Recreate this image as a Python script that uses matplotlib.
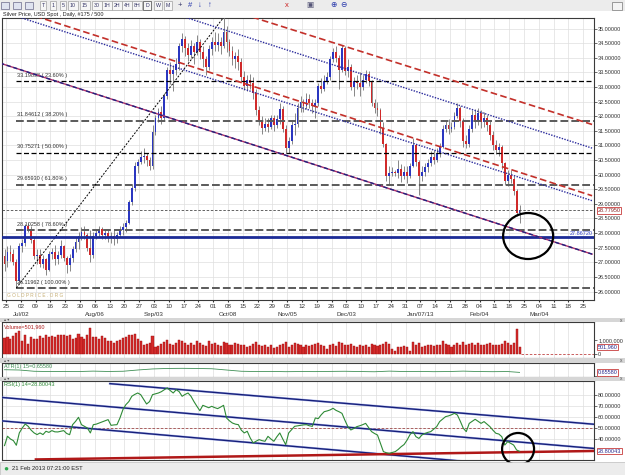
import numpy as np
import pandas as pd
import matplotlib
matplotlib.use("Agg")
import matplotlib.pyplot as plt
from matplotlib.patches import Ellipse, Rectangle
from matplotlib.transforms import blended_transform_factory

plt.rcParams["font.family"] = ["Liberation Sans", "DejaVu Sans"]

W, H = 625, 475

# === daily silver candles, 22 Jun 2012 .. 21 Feb 2013 (175 bars, one row per week) ===
opens = [27.20,
    27.05, 27.35, 27.30, 27.00, 26.35,   27.55, 27.65, 28.25, 28.15, 27.75,
    27.20, 27.25, 26.95, 27.10, 26.75,   27.30, 27.35, 27.10, 27.25, 27.55,
    27.15, 26.90, 27.15, 27.45, 27.70,   27.90, 28.05, 27.95, 27.50, 27.25,
    27.90, 28.00, 28.15, 27.95, 28.00,   27.85, 27.90, 27.80, 27.95, 28.10,
    28.20, 28.35, 29.05, 29.55, 30.30,   30.45, 30.60, 30.65, 30.50, 30.30,
    31.45, 31.95, 32.15, 31.95, 32.70,   33.60, 33.45, 33.60, 33.80, 34.40,
    34.65, 34.35, 34.10, 34.40, 34.20,   34.55, 34.20, 33.95, 33.70, 34.30,
    34.55, 34.45, 34.55, 34.40, 34.90,   34.55, 34.25, 33.95, 34.05, 33.85,
    33.35, 33.05, 33.25, 33.15, 32.80,   32.20, 31.85, 31.60, 31.75, 31.65,
    31.95, 31.70, 31.90, 32.25, 31.55,   30.90, 31.15, 31.70, 31.75, 32.30,
    32.50, 32.35, 32.60, 32.45, 32.35,   32.45, 33.05, 32.95, 33.20, 33.35,
    33.95, 34.20, 34.00, 33.60, 34.35,   33.55, 33.70, 33.00, 33.20, 33.15,
    33.00, 33.25, 33.45, 33.20, 32.45,   32.30, 32.20, 31.60, 31.05, 29.95,
    30.05, 30.10, 30.05, 30.20, 29.95,   30.10, 29.95, 30.30, 31.00, 30.45,
    29.95, 30.10, 30.25, 30.40, 30.60,   30.50, 30.75, 30.95, 31.55, 31.70,
    31.55, 31.65, 32.00, 32.30, 31.85,   31.15, 31.05, 31.55, 32.05, 31.85,
    32.10, 31.80, 31.95, 31.70, 31.35,   31.00, 30.85, 30.95, 30.40, 29.80,
    30.00, 29.85, 29.45, 28.70]
highs = [27.45,
    27.55, 27.60, 27.45, 27.10, 27.65,   27.80, 28.30, 28.35, 28.25, 27.85,
    27.45, 27.45, 27.25, 27.15, 27.40,   27.50, 27.60, 27.40, 27.75, 27.60,
    27.20, 27.30, 27.55, 27.85, 28.05,   28.20, 28.25, 28.00, 28.10, 28.05,
    28.15, 28.25, 28.20, 28.15, 28.10,   28.05, 28.10, 28.05, 28.25, 28.35,
    28.45, 29.15, 29.65, 30.45, 30.55,   30.80, 30.90, 30.75, 30.60, 31.70,
    32.05, 32.30, 32.35, 32.80, 33.70,   33.85, 33.75, 34.00, 34.50, 34.85,
    34.75, 34.50, 34.60, 34.50, 34.80,   34.65, 34.40, 34.05, 34.45, 34.70,
    34.90, 34.85, 34.70, 35.39, 35.10,   34.65, 34.40, 34.20, 34.30, 34.00,
    33.55, 33.40, 33.45, 33.35, 32.95,   32.35, 32.00, 31.95, 31.95, 32.05,
    32.05, 32.05, 32.45, 32.35, 31.70,   31.30, 31.85, 32.10, 32.45, 32.70,
    32.60, 32.80, 32.75, 32.60, 32.60,   33.15, 33.30, 33.40, 33.50, 34.05,
    34.35, 34.40, 34.10, 34.45, 34.40,   33.95, 33.80, 33.35, 33.40, 33.50,
    33.40, 33.60, 33.55, 33.25, 32.60,   32.50, 32.30, 31.80, 31.10, 30.30,
    30.25, 30.15, 30.50, 30.35, 30.30,   30.30, 30.40, 31.25, 31.05, 30.50,
    30.30, 30.40, 30.55, 30.80, 30.85,   30.90, 31.10, 31.70, 31.85, 31.90,
    31.80, 32.15, 32.45, 32.35, 31.95,   31.35, 31.70, 32.20, 32.25, 32.30,
    32.20, 32.15, 32.05, 31.85, 31.50,   31.20, 31.10, 31.00, 30.45, 30.15,
    30.15, 29.95, 29.50, 28.95]
lows = [26.70,
    26.85, 27.05, 26.90, 26.12, 26.30,   27.35, 27.55, 28.05, 27.65, 27.10,
    26.95, 26.85, 26.80, 26.55, 26.70,   27.10, 26.90, 26.95, 27.15, 27.05,
    26.65, 26.70, 27.00, 27.35, 27.45,   27.75, 27.80, 27.40, 27.00, 27.15,
    27.80, 27.85, 27.80, 27.80, 27.70,   27.65, 27.60, 27.65, 27.85, 27.95,
    28.05, 28.30, 28.95, 29.45, 30.05,   30.35, 30.40, 30.30, 30.15, 30.20,
    31.35, 31.80, 31.75, 31.85, 32.60,   33.10, 32.85, 33.40, 33.60, 34.20,
    34.05, 33.90, 34.00, 33.80, 34.10,   33.95, 33.70, 33.40, 33.60, 34.10,
    34.25, 34.25, 34.15, 34.35, 34.20,   34.05, 33.75, 33.65, 33.60, 33.20,
    32.90, 32.85, 32.95, 32.60, 32.05,   31.70, 31.40, 31.50, 31.45, 31.55,
    31.50, 31.60, 31.75, 31.45, 30.75,   30.75, 31.05, 31.35, 31.65, 32.15,
    32.15, 32.25, 32.30, 32.10, 31.95,   32.35, 32.80, 32.85, 33.10, 33.25,
    33.85, 33.85, 32.95, 33.50, 33.40,   33.35, 32.90, 32.70, 32.95, 32.70,
    32.90, 33.15, 33.05, 32.35, 32.10,   32.00, 31.40, 30.95, 29.80, 29.65,
    29.95, 29.95, 29.90, 29.75, 29.85,   29.70, 29.90, 30.25, 30.30, 29.30,
    29.80, 29.95, 30.10, 30.30, 30.35,   30.45, 30.60, 30.90, 31.45, 31.40,
    31.45, 31.55, 31.95, 31.65, 30.95,   30.90, 30.95, 31.45, 31.60, 31.70,
    31.60, 31.65, 31.50, 31.20, 30.85,   30.70, 30.65, 30.20, 29.65, 29.60,
    29.70, 29.30, 28.60, 28.35]
closes = [26.95,
    27.35, 27.30, 27.00, 26.35, 27.55,   27.65, 28.25, 28.15, 27.75, 27.20,
    27.25, 26.95, 27.10, 26.75, 27.30,   27.35, 27.10, 27.25, 27.55, 27.15,
    26.90, 27.15, 27.45, 27.70, 27.90,   28.05, 27.95, 27.50, 27.25, 27.90,
    28.00, 28.15, 27.95, 28.00, 27.85,   27.90, 27.80, 27.95, 28.10, 28.20,
    28.35, 29.05, 29.55, 30.30, 30.45,   30.60, 30.65, 30.50, 30.30, 31.45,
    31.95, 32.15, 31.95, 32.70, 33.60,   33.45, 33.60, 33.80, 34.40, 34.65,
    34.35, 34.10, 34.40, 34.20, 34.55,   34.20, 33.95, 33.70, 34.30, 34.55,
    34.45, 34.55, 34.40, 34.90, 34.55,   34.25, 33.95, 34.05, 33.85, 33.35,
    33.05, 33.25, 33.15, 32.80, 32.20,   31.85, 31.60, 31.75, 31.65, 31.95,
    31.70, 31.90, 32.25, 31.55, 30.90,   31.15, 31.70, 31.75, 32.30, 32.50,
    32.35, 32.60, 32.45, 32.35, 32.45,   33.05, 32.95, 33.20, 33.35, 33.95,
    34.20, 34.00, 33.60, 34.35, 33.55,   33.70, 33.00, 33.20, 33.15, 33.00,
    33.25, 33.45, 33.20, 32.45, 32.30,   32.20, 31.60, 31.05, 29.95, 30.05,
    30.10, 30.05, 30.20, 29.95, 30.10,   29.95, 30.30, 31.00, 30.45, 29.95,
    30.10, 30.25, 30.40, 30.60, 30.50,   30.75, 30.95, 31.55, 31.70, 31.55,
    31.65, 32.00, 32.30, 31.85, 31.15,   31.05, 31.55, 32.05, 31.85, 32.10,
    31.80, 31.95, 31.70, 31.35, 31.00,   30.85, 30.95, 30.40, 29.80, 30.00,
    29.85, 29.45, 28.70, 28.78]
volume_k = [1150,
    1200, 1050, 1300, 1550, 1700,   950, 1400, 700, 1250, 1100,
    1050, 1300, 1150, 1350, 1250,   1300, 1200, 1350, 1350, 1350,
    1300, 1400, 1050, 1150, 1450,   1250, 1100, 1400, 1900, 1250,
    1200, 1100, 1300, 1150, 950,    900, 800, 950, 1000, 1150,
    1250, 1400, 1350, 1450, 1100,   900, 650, 700, 750, 1300,
    450, 550, 700, 850, 1000,       700, 650, 750, 1000, 900,
    800, 650, 750, 600, 900,        800, 600, 550, 900, 700,
    750, 600, 550, 850, 750,        650, 600, 800, 700, 650,
    600, 500, 550, 700, 850,        600, 550, 650, 500, 600,
    400, 450, 600, 700, 850,        500, 650, 800, 700, 600,
    500, 600, 550, 650, 700,        750, 600, 550, 300, 650,
    700, 550, 850, 800, 650,        600, 700, 550, 500, 600,
    550, 600, 500, 700, 600,        550, 650, 700, 850, 700,
    300, 150, 450, 500, 550,        450, 200, 850, 650, 750,
    500, 550, 600, 650, 550,        600, 650, 950, 700, 600,
    450, 600, 750, 650, 850,        600, 700, 750, 650, 800,
    650, 600, 700, 750, 600,        650, 600, 700, 900, 750,
    650, 800, 1830, 502]
rsi = [34.0,
    42.5, 40.0, 38.5, 34.3, 45.5,   50.0, 53.6, 51.5, 48.0, 45.5,
    44.0, 45.5, 44.0, 47.0, 46.0,   47.6, 46.5, 46.4, 47.0, 47.6,
    45.0, 43.9, 53.0, 56.0, 59.7,   53.0, 51.5, 50.0, 45.5, 53.0,
    53.5, 54.5, 55.5, 56.5, 57.6,   52.4, 52.8, 53.0, 59.1, 66.7,
    71.2, 74.0, 78.8, 80.5, 81.8,   80.3, 76.0, 71.8, 74.0, 80.3,
    81.0, 81.8, 83.0, 84.8, 86.4,   84.0, 81.8, 84.8, 83.0, 78.8,
    80.5, 81.8, 78.8, 74.0, 69.7,   65.7, 70.6, 69.5, 68.4, 69.7,
    68.5, 67.6, 69.0, 70.6, 59.1,   56.5, 54.5, 53.5, 53.0, 48.0,
    45.5, 47.0, 41.0, 36.4, 38.0,   39.4, 38.5, 37.9, 42.4, 40.0,
    37.9, 42.0, 45.5, 40.0, 34.8,   45.5, 48.5, 51.5, 52.0, 52.4,
    52.8, 53.0, 52.0, 51.5, 59.1,   58.5, 62.0, 64.8, 65.5, 66.4,
    67.9, 66.0, 64.8, 63.3, 57.0,   51.2, 48.2, 49.5, 51.2, 52.0,
    53.0, 54.2, 50.5, 46.7, 45.0,   43.6, 36.0, 28.5, 27.5, 27.0,
    27.8, 28.5, 30.5, 33.0, 35.0,   39.0, 44.0, 46.7, 42.1, 40.5,
    43.6, 45.0, 46.0, 46.7, 49.0,   51.2, 55.8, 58.0, 60.3, 61.0,
    62.0, 63.3, 61.8, 56.0, 49.7,   46.7, 54.2, 56.0, 57.9, 56.0,
    54.2, 55.8, 53.5, 51.2, 48.0,   45.2, 44.5, 42.1, 34.5, 37.6,
    36.0, 34.5, 30.0, 28.80043]

# ATR(15), read once a week
atr_bar = [-1, 4, 9, 14, 19, 24, 29, 34, 39, 44, 49, 54, 59, 64, 69, 74, 79, 84,
           89, 94, 99, 104, 109, 114, 119, 124, 129, 134, 139, 144, 149, 154,
           159, 164, 169, 173]
atr_vals = [0.694, 0.690, 0.672, 0.668, 0.670, 0.668, 0.674, 0.669, 0.672, 0.690,
            0.705, 0.712, 0.714, 0.712, 0.708, 0.690, 0.672, 0.668, 0.670, 0.666,
            0.668, 0.667, 0.670, 0.672, 0.668, 0.665, 0.674, 0.668, 0.670, 0.666,
            0.668, 0.674, 0.668, 0.666, 0.668, 0.6558]

# fibonacci retracement (low 28 Jun -> high 4 Oct)
fib_levels = [33.19898, 31.84612, 30.75271, 29.65930, 28.10258, 26.11962]
fib_pcts = ["23.60", "38.20", "50.00", "61.80", "78.60", "100.00"]
fib_black = [True, False, True, False, False, False]
fib_swing_bar = [3, 73]
fib_swing_price = [26.11962, 35.38580]

last_price = 28.77950
support = 27.86720

# channel trend lines: (bar, price) anchors
upper_red = ([79.5, 197.5], [35.50, 31.72])
upper_blue = ([59.5, 197.5], [35.41, 30.91])
mid_red = ([9.5, 197.5], [35.43, 29.28])
mid_blue = ([-0.5, 197.5], [35.54, 29.11])
low_purple = ([-2.5, 197.5], [33.82, 27.28])

# RSI trend lines
rsi_top = ([34.6, 198.1], [90.3, 53.4])
rsi_mid = ([-2.5, 198.1], [77.9, 31.4])
rsi_low = ([-2.5, 198.1], [56.6, 9.4])
rsi_red = ([9.6, 198.1], [21.4, 29.1])

month_dates = ["2012-07-02", "2012-08-06", "2012-09-03", "2012-10-08", "2012-11-05",
               "2012-12-03", "2013-01-07", "2013-02-04", "2013-03-04"]
month_text = ["Jul/02", "Aug/06", "Sep/03", "Oct/08", "Nov/05", "Dec/03",
              "Jan/07/13", "Feb/04", "Mar/04"]

# --- calendar ---
days = pd.bdate_range("2012-06-22", "2013-02-21")
x = np.arange(len(days)) - 1
week0 = pd.Timestamp("2012-06-25")
tick_dates = pd.date_range(week0, periods=40, freq="7D")
tick_pos = np.arange(40) * 5 - 0.5
XLIM = (-1.85, 198.15)

fig = plt.figure(figsize=(W / 100, H / 100), dpi=100)
fig.patch.set_facecolor("white")


def px_axes(x0, y0, x1, y1):
    return fig.add_axes([x0 / W, 1 - y1 / H, (x1 - x0) / W, (y1 - y0) / H])


def fig_rect(x0, y0, x1, y1, fc, ec="none"):
    fig.patches.append(Rectangle((x0 / W, 1 - y1 / H), (x1 - x0) / W, (y1 - y0) / H,
                                 transform=fig.transFigure, fc=fc, ec=ec, lw=0.5, zorder=0))


def style_panel(ax):
    ax.set_xlim(*XLIM)
    ax.set_facecolor("white")
    for s in ax.spines.values():
        s.set_color("#3a3a3a")
        s.set_linewidth(0.8)
    ax.yaxis.tick_right()
    ax.tick_params(axis="y", labelsize=4, pad=1, length=2, width=0.5, colors="#333333")
    ax.set_xticks(tick_pos)
    ax.tick_params(axis="x", length=0, labelbottom=False)
    ax.grid(axis="x", color="#dedede", lw=0.5)
    ax.set_axisbelow(True)


def value_box(ax, y, text, tc="#2b2b8c"):
    tr = blended_transform_factory(ax.transAxes, ax.transData)
    ax.text(1.006, y, text, transform=tr, fontsize=4, color=tc, va="center", ha="left",
            bbox=dict(boxstyle="square,pad=0.12", fc="white", ec="#c83c3c", lw=0.6),
            clip_on=False, zorder=10)


# --- chrome: toolbar, separators, status bar ---
fig_rect(0, 0, W, 11, "#ececec")
for tx in (5, 17, 29):
    fig_rect(tx - 4, 2, tx + 4, 9, "#dfe3f0", "#6a6a8a")
tool_x = [43, 53, 63, 73, 85, 97, 107, 117, 127, 137, 147, 158, 168]
tool_t = ["T", "1", "5", "10", "15", "30", "1H", "2H", "4H", "8H", "D", "W", "M"]
for tx, tt in zip(tool_x, tool_t):
    fig.text(tx / W, 1 - 5.5 / H, tt, fontsize=3.8, ha="center", va="center", color="#333366",
             bbox=dict(boxstyle="square,pad=0.35", fc="#f6f6f6",
                       ec="#444444" if tt == "D" else "#a0a0a0", lw=0.5))
for tx, tt, tc in [(180, "+", "#333366"), (190, "#", "#2233aa"), (200, "\u2193", "#2233aa"),
                   (210, "\u2191", "#2233aa"), (287, "x", "#cc2222"), (310, "\u25a3", "#555577"),
                   (333, "\u2295", "#2233aa"), (343, "\u2296", "#2233aa")]:
    fig.text(tx / W, 1 - 5.5 / H, tt, fontsize=5.5, ha="center", va="center", color=tc)
fig_rect(612, 2, 622, 10, "#f4f4f4", "#777777")
fig.text(3 / W, 1 - 14.5 / H, "Silver Price, USD Spot , Daily, #175 / 500",
         fontsize=4, va="center", color="#222222")
for y0, y1 in [(318, 322), (358, 363), (377, 381)]:
    fig_rect(0, y0, W, y1, "#d6d6d6")
    fig.text(4 / W, 1 - (y0 + y1) / 2 / H, "\u25b4 \u25be", fontsize=3, va="center", color="#555555")
    fig.text(620 / W, 1 - (y0 + y1) / 2 / H, "x", fontsize=3.5, va="center", color="#555555")
fig_rect(0, 462, W, H, "#ececec", "#bcbcbc")
fig.text(6 / W, 1 - 469 / H, "\u25cf", fontsize=6, color="#2fa84f", ha="center", va="center")
fig.text(12 / W, 1 - 469 / H, "21 Feb 2013 07:21:00 EST", fontsize=4.2, va="center", color="#222222")

# --- main price panel ---
ax = px_axes(2, 18, 594, 300)
style_panel(ax)
ax.set_ylim(25.709, 35.366)
ax.set_yticks(np.arange(26, 35.01, 0.5))
ax.set_yticklabels([f"{v:.5f}" for v in np.arange(26, 35.01, 0.5)])
ax.grid(axis="y", color="#dedede", lw=0.5)
ax.tick_params(axis="x", labelbottom=True, labelsize=4.5, pad=1.5, length=1.5, colors="#333333")
ax.set_xticklabels([d.strftime("%d") for d in tick_dates])
for md, mt in zip(month_dates, month_text):
    k = (pd.Timestamp(md) - week0).days // 7
    ax.text(k * 5 - 0.5, -0.05, mt, transform=ax.get_xaxis_transform(), fontsize=4.5,
            ha="center", va="center", color="#333333")

o, hi, lo, c = map(np.array, (opens, highs, lows, closes))
up = c >= o
ax.vlines(x, lo, hi, color="#747474", lw=0.6, zorder=3)
ax.bar(x, np.maximum(np.abs(c - o), 0.03), bottom=np.minimum(o, c), width=0.62,
       color=np.where(up, "#2a36c0", "#d02a2a"), zorder=4)

for lvl, pct, blk in zip(fib_levels, fib_pcts, fib_black):
    if blk:
        ax.plot([fib_swing_bar[0], XLIM[1]], [lvl, lvl], color="black", lw=0.9, dashes=(4, 2), zorder=5)
    else:
        ax.plot([fib_swing_bar[0], XLIM[1]], [lvl, lvl], color="#5a5a5a", lw=1.4, dashes=(4, 1.6), zorder=5)
    ax.text(fib_swing_bar[0] + 0.3, lvl + 0.2, f"{lvl:.5f} ( {pct}% )", fontsize=4,
            va="center", ha="left", color="#333333", zorder=6)
ax.plot(fib_swing_bar, fib_swing_price, color="black", lw=0.7, dashes=(2, 1.5), zorder=5)

ax.axhline(last_price, color="#4a4a4a", lw=0.6, dashes=(3, 2), zorder=5)
ax.axhline(support, color="#1c2b96", lw=2, zorder=5)
ax.text(XLIM[1] - 0.6, support + 0.04, f"{support:.5f}", fontsize=4, color="#3443c8",
        ha="right", va="bottom", zorder=6)

ax.plot(*upper_red, color="#c3302a", lw=1.2, dashes=(4, 2), zorder=6)
ax.plot(*mid_red, color="#c3302a", lw=1.2, dashes=(4, 2), zorder=6)
ax.plot(*upper_blue, color="#2a2a9c", lw=1.0, dashes=(1, 1), zorder=6)
ax.plot(*mid_blue, color="#2a2a9c", lw=1.0, dashes=(1, 1), zorder=6)
ax.plot(*low_purple, color="#b0306a", lw=1.0, zorder=6)
ax.plot(*low_purple, color="#1f2380", lw=1.0, dashes=(3, 2), zorder=6)

ax.add_patch(Ellipse((175.9, 27.90), 16.9, 1.575, fill=False, ec="black", lw=1.6, zorder=8))
ax.text(-0.2, 25.85, "G O L D P R I C E . O R G", fontsize=3.4, color="#c6ad72",
        va="center", ha="left", zorder=6)
value_box(ax, last_price, f"{last_price:.5f}", tc="#8a2020")

# --- volume panel ---
vax = px_axes(2, 322, 594, 358)
style_panel(vax)
vax.set_ylim(-0.333e6, 2.333e6)
vol = np.array(volume_k) * 1000
vax.bar(x, vol, width=0.7, color="#d42b2b", edgecolor="#9c0c0c", lw=0.3, zorder=3)
vax.plot([x[-1] + 0.5, XLIM[1]], [0, 0], color="#c04444", lw=0.6, dashes=(3, 2))
vax.set_yticks([0, 1e6])
vax.set_yticklabels(["0", "1,000,000"])
value_box(vax, vol[-1], "501,960")
vax.text(0.004, 0.95, "Volume=501,960", transform=vax.transAxes, fontsize=4,
         color="#b02020", va="top", ha="left")

# --- ATR panel ---
aax = px_axes(2, 363, 594, 377)
style_panel(aax)
aax.set_ylim(0.59, 0.79)
aax.plot(atr_bar, atr_vals, color="#3f8f55", lw=0.6)
aax.set_yticks([0.60])
aax.set_yticklabels(["0.60000"])
value_box(aax, atr_vals[-1], "0.65580")
aax.text(0.004, 0.92, "ATR(1) 15=0.65580", transform=aax.transAxes, fontsize=4,
         color="#3f8f55", va="top", ha="left")

# --- RSI panel ---
rax = px_axes(2, 381, 594, 460)
style_panel(rax)
rax.set_ylim(20.9, 92.7)
rax.set_yticks(np.arange(40, 81, 10))
rax.set_yticklabels([f"{v:.5f}" for v in np.arange(40, 81, 10)])
rax.grid(axis="y", color="#dedede", lw=0.5)
rax.axhline(50, color="#a04848", lw=0.6, dashes=(3, 2))
for ln in (rsi_top, rsi_mid, rsi_low):
    rax.plot(*ln, color="#8e9ce6", lw=1.6, alpha=0.7, zorder=4)
    rax.plot(*ln, color="#17207a", lw=1.0, zorder=4)
rax.plot(*rsi_red, color="#b01818", lw=1.8, zorder=4)
rax.plot(x, rsi, color="#2e8a36", lw=0.8, zorder=5)
rax.add_patch(Ellipse((172.5, 30.9), 10.8, 29.1, fill=False, ec="black", lw=1.6,
                      clip_on=False, zorder=9))
value_box(rax, rsi[-1], "28.80043")
rax.text(0.004, 0.985, "RSI(1) 14=28.80043", transform=rax.transAxes, fontsize=4,
         color="#2e8a36", va="top", ha="left")

fig.savefig("out.png", dpi=100)
